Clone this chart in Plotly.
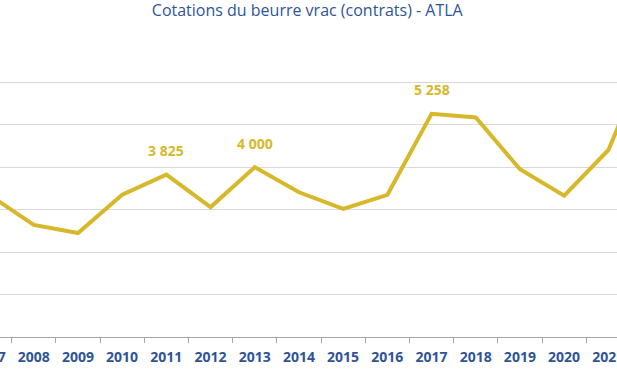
import plotly.graph_objects as go

years = [2007, 2008, 2009, 2010, 2011, 2012, 2013, 2014, 2015, 2016, 2017, 2018, 2019, 2020, 2021, 2022]
prices = [3340, 2640, 2450, 3350, 3825, 3060, 4000, 3410, 3020, 3350, 5258, 5170, 3950, 3330, 4405, 6880]
labelled_years = [2011, 2013, 2017]
title_text = "Cotations du beurre vrac (contrats) - ATLA"

GOLD = "#D7B82A"
BLUE = "#2F5496"
FONT = "Open Sans"

x_range = [2007.235, 2021.195]
boundaries = [y + 0.5 for y in years if 2007 <= y <= 2020]
right_labels = [str(y + 1) for y in years if 2007 <= y <= 2020]

fig = go.Figure()
fig.add_trace(go.Scatter(
    x=years, y=prices, mode="lines",
    line=dict(color=GOLD, width=4),
    showlegend=False, hoverinfo="skip",
))
fig.add_trace(go.Scatter(
    x=[years[0]], y=[None], xaxis="x2", yaxis="y", mode="lines",
    showlegend=False, hoverinfo="skip",
))

def fmt(v):
    return f"{v:,}".replace(",", " ")

for yr, v in zip(years, prices):
    if yr in labelled_years:
        fig.add_annotation(
            x=yr, y=v, text=fmt(v), showarrow=False, yshift=24,
            font=dict(family=FONT, size=14, color=GOLD, weight="bold"),
        )

tickfont = dict(family=FONT, size=14, color=BLUE, weight="bold")

fig.update_layout(
    template="none",
    width=617, height=381,
    margin=dict(l=0, r=0, t=39, b=44, autoexpand=False),
    paper_bgcolor="white", plot_bgcolor="white",
    title=dict(
        text=title_text, x=0.498, xanchor="center",
        y=1 - 10 / 381, yanchor="middle", yref="container",
        font=dict(family=FONT, size=16, color=BLUE),
    ),
    xaxis=dict(
        range=x_range, tickmode="array", tickvals=boundaries, ticktext=right_labels,
        ticklabelshift=22, ticklabelstandoff=2, ticklabeloverflow="allow", automargin=False,
        ticks="outside", ticklen=5, tickcolor="#A6A6A6",
        showline=True, linecolor="#A6A6A6", linewidth=1,
        showgrid=False, zeroline=False, tickfont=tickfont,
    ),
    xaxis2=dict(
        range=x_range, overlaying="x", anchor="y", side="bottom",
        tickmode="array", tickvals=[boundaries[0]], ticktext=[str(years[0])],
        ticklabelshift=-22, ticklabelstandoff=2, ticklabeloverflow="allow", automargin=False,
        ticks="outside", ticklen=5, tickcolor="rgba(0,0,0,0)",
        showline=False, showgrid=False, zeroline=False, tickfont=tickfont,
    ),
    yaxis=dict(
        range=[0, 7020], tickmode="array", tickvals=[0, 1000, 2000, 3000, 4000, 5000, 6000, 7000],
        showticklabels=False, automargin=False,
        showgrid=True, gridcolor="#D9D9D9", gridwidth=1,
        zeroline=False, showline=False,
    ),
)

fig.write_html(
    "out.html",
    config={"displayModeBar": False},
    post_script="document.body.style.margin='0';document.body.style.padding='0';window.dispatchEvent(new Event('resize'));",
)
